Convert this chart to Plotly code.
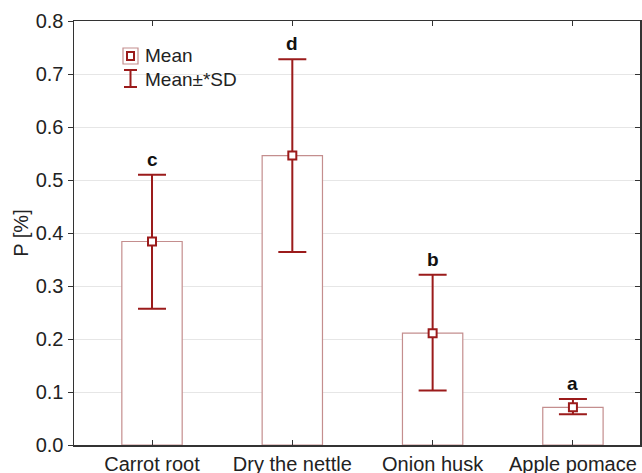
import plotly.graph_objects as go

categories = ["Carrot root", "Dry the nettle", "Onion husk", "Apple pomace"]
means = [0.384, 0.546, 0.211, 0.071]
sd_plus = [0.126, 0.182, 0.110, 0.016]
sd_minus = [0.127, 0.182, 0.108, 0.013]
letters = ["c", "d", "b", "a"]
y_ticks = [0.0, 0.1, 0.2, 0.3, 0.4, 0.5, 0.6, 0.7, 0.8]

DARK = "#9b1b1b"
BAR_LINE = "#c48e8e"
FONT = "Liberation Sans, Arial, sans-serif"

L, R, T, B = 74, 640, 21, 445

fig = go.Figure()
fig.add_trace(go.Bar(
    x=categories, y=means, width=0.43,
    marker=dict(color="white", line=dict(color=BAR_LINE, width=1.2)),
    showlegend=False, hoverinfo="skip",
))
fig.add_trace(go.Scatter(
    x=categories, y=means, mode="markers",
    marker=dict(symbol="square", size=8, color="white", line=dict(color=DARK, width=2)),
    error_y=dict(type="data", symmetric=False, array=sd_plus, arrayminus=sd_minus,
                 color=DARK, thickness=2, width=14),
    showlegend=False,
))

for c, m, p, l in zip(categories, means, sd_plus, letters):
    fig.add_annotation(x=c, y=m + p, text="<b>%s</b>" % l, showarrow=False,
                       yanchor="bottom", yshift=3,
                       font=dict(family=FONT, size=19, color="#111111"))

# Legend drawn manually (paper coordinates)
def px(x):
    return (x - L) / float(R - L)

def py(y):
    return (B - y) / float(B - T)

fig.add_shape(type="rect", xref="paper", yref="paper",
              x0=px(123), x1=px(138), y0=py(64), y1=py(48),
              line=dict(color=BAR_LINE, width=1.2), fillcolor="white")
fig.add_shape(type="rect", xref="paper", yref="paper",
              x0=px(127), x1=px(134), y0=py(60), y1=py(52),
              line=dict(color=DARK, width=2), fillcolor="white")
fig.add_shape(type="line", xref="paper", yref="paper",
              x0=px(130.5), x1=px(130.5), y0=py(87), y1=py(70),
              line=dict(color=DARK, width=2))
fig.add_shape(type="line", xref="paper", yref="paper",
              x0=px(124), x1=px(137), y0=py(70), y1=py(70),
              line=dict(color=DARK, width=2))
fig.add_shape(type="line", xref="paper", yref="paper",
              x0=px(124), x1=px(137), y0=py(87), y1=py(87),
              line=dict(color=DARK, width=2))
fig.add_annotation(xref="paper", yref="paper", x=px(143), y=py(56), text="Mean",
                   showarrow=False, xanchor="left", yanchor="middle",
                   font=dict(family=FONT, size=19, color="#222222"))
fig.add_annotation(xref="paper", yref="paper", x=px(143), y=py(79), text="Mean±*SD",
                   showarrow=False, xanchor="left", yanchor="middle",
                   font=dict(family=FONT, size=19, color="#222222"))

fig.update_layout(
    width=642, height=473,
    margin=dict(l=L, r=642 - R, t=T, b=473 - B),
    paper_bgcolor="white", plot_bgcolor="white",
    font=dict(family=FONT, size=20, color="#222222"),
    xaxis=dict(range=[-0.556, 3.478], showline=True, linecolor="#333333", linewidth=1.5,
               mirror="ticks", ticks="inside", ticklen=5, tickcolor="#333333",
               showgrid=False, tickfont=dict(size=20), automargin=False),
    yaxis=dict(range=[0, 0.8], tickvals=y_ticks, ticktext=["%.1f" % v for v in y_ticks],
               showline=True, linecolor="#333333", linewidth=1.5,
               ticks="outside", ticklen=5, tickcolor="#333333",
               showgrid=True, gridcolor="#e6e6e6", gridwidth=1, zeroline=False,
               title=dict(text="P [%]", font=dict(size=20), standoff=1),
               tickfont=dict(size=20), automargin=False),
    yaxis2=dict(range=[0, 0.8], overlaying="y", side="right", tickvals=y_ticks,
                showticklabels=False, ticks="inside", ticklen=5, tickcolor="#333333",
                showline=True, linecolor="#333333", linewidth=1.5, showgrid=False,
                zeroline=False),
    bargap=0,
)
# invisible trace to activate yaxis2
fig.add_trace(go.Scatter(x=[categories[0]], y=[0], yaxis="y2", mode="markers",
                         marker=dict(opacity=0), showlegend=False, hoverinfo="skip"))

fig.write_html(
    "out.html",
    config={"displayModeBar": False, "staticPlot": True},
    post_script="document.body.style.margin='0';document.documentElement.style.overflow='hidden';",
)
